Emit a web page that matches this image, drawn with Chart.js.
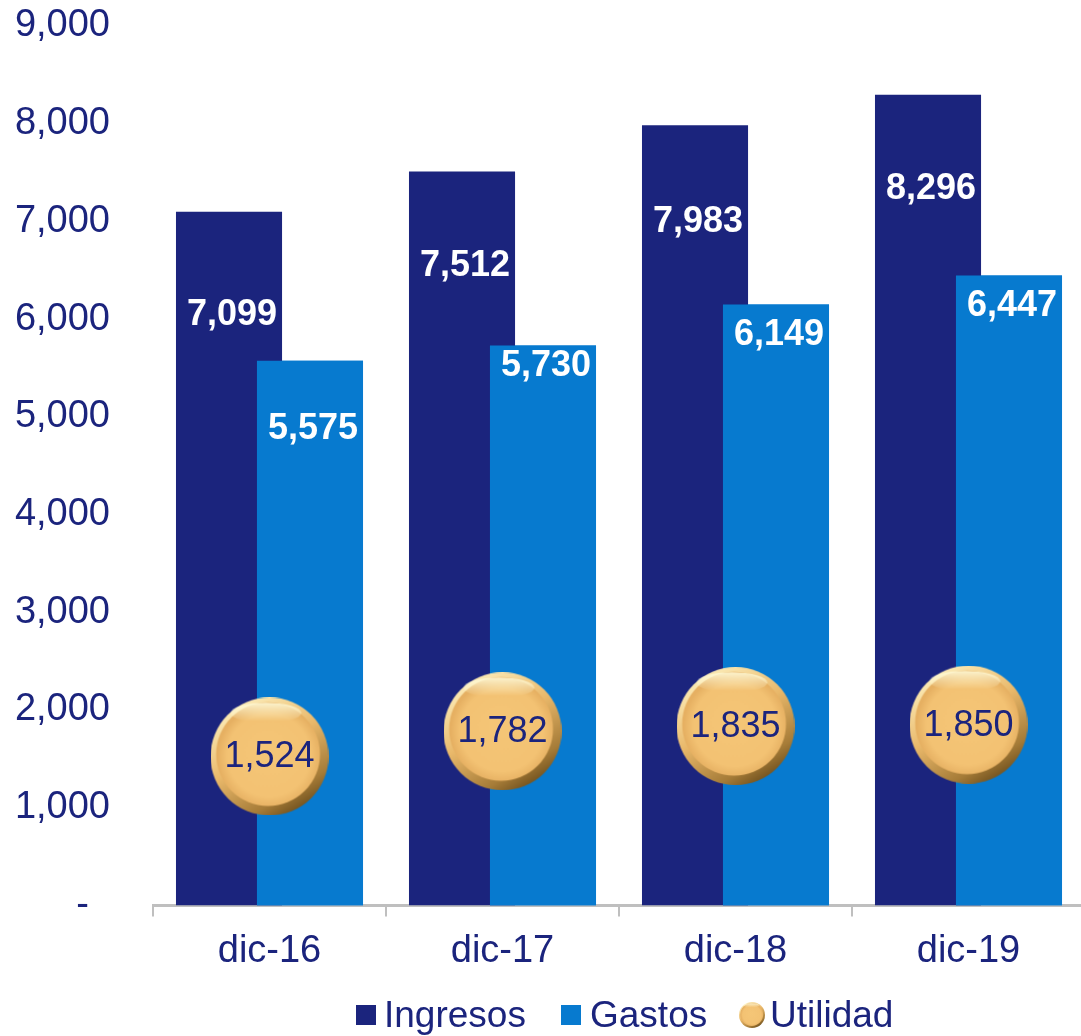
<!DOCTYPE html>
<html>
<head>
<meta charset="utf-8">
<title>Ingresos, Gastos y Utilidad</title>
<script src="https://cdn.jsdelivr.net/npm/chart.js@4.4.0/dist/chart.umd.min.js"></script>
<style>
  html, body { margin: 0; padding: 0; background: #fff; overflow: hidden; }
  #wrap { position: relative; width: 1081px; height: 1036px; overflow: hidden; }
  #chart { position: absolute; left: 0; top: 0; }
  .leg { position: absolute; top: 996px; height: 37px; display: flex; align-items: center;
         font: 37px "Liberation Sans", Arial, sans-serif; color: #1B247D; line-height: 37px; white-space: nowrap; }
  .sw { display: inline-block; width: 20px; height: 20px; }
  .ball { display: inline-block; width: 26px; height: 26px; }
  .ball canvas { display: block; }
</style>
</head>
<body>
<div id="wrap">
  <!-- el eje del original sigue unos px más allá del borde derecho -->
  <canvas id="chart" width="1085" height="1036"></canvas>
  <div class="leg" style="left:356px"><span class="sw" style="background:#1B247D;margin-right:8px"></span>Ingresos</div>
  <div class="leg" style="left:561px"><span class="sw" style="background:#077ACF;margin-right:9px"></span>Gastos</div>
  <div class="leg" style="left:739px"><span class="ball" id="ballIcon" style="margin-right:5px"></span>Utilidad</div>
</div>
<script>
// ── Datos ─────────────────────────────────────────────
const PERIODOS  = ['dic-16', 'dic-17', 'dic-18', 'dic-19'];
const INGRESOS  = [7099, 7512, 7983, 8296];
const GASTOS    = [5575, 5730, 6149, 6447];
const UTILIDAD  = [1524, 1782, 1835, 1850];
const Y_TICKS   = [0, 1000, 2000, 3000, 4000, 5000, 6000, 7000, 8000, 9000];

const NAVY = '#1B247D';
const BLUE = '#077ACF';
const FONT = '"Liberation Sans", Arial, sans-serif';

// distancia (px) entre el tope de la barra y su etiqueta, como en el original
const DROP_ING = [103, 95, 97, 94];
const DROP_GAS = [68, 21, 31, 31];

const fmt = v => v.toLocaleString('en-US');

// ── Bola dorada (punto de Utilidad) ───────────────────
function makeBall(d) {
  const c = document.createElement('canvas');
  c.width = c.height = d;
  const g = c.getContext('2d');
  const r = d / 2;

  // borde: claro arriba-izquierda, oscuro abajo-derecha
  const rim = g.createLinearGradient(d * 0.2, 0, d * 0.8, d);
  rim.addColorStop(0, '#fff3c2');
  rim.addColorStop(0.45, '#e9b86a');
  rim.addColorStop(0.8, '#a67c38');
  rim.addColorStop(1, '#5e4215');
  g.beginPath(); g.arc(r, r, r, 0, Math.PI * 2); g.fillStyle = rim; g.fill();

  // cara
  const face = g.createRadialGradient(r * 0.95, r * 0.9, 0, r, r, r * 0.88);
  face.addColorStop(0, '#f5c677');
  face.addColorStop(0.8, '#f3c273');
  face.addColorStop(1, '#e6b062');
  g.beginPath(); g.arc(r - d * 0.012, r - d * 0.02, r * 0.88, 0, Math.PI * 2);
  g.fillStyle = face; g.fill();

  // brillo superior
  const hi = g.createLinearGradient(0, d * 0.04, 0, d * 0.2);
  hi.addColorStop(0, 'rgba(255,250,215,0.95)');
  hi.addColorStop(1, 'rgba(255,250,215,0)');
  g.beginPath(); g.ellipse(r - d * 0.03, d * 0.13, r * 0.6, d * 0.085, 0, 0, Math.PI * 2);
  g.fillStyle = hi; g.fill();
  return c;
}

document.getElementById('ballIcon').appendChild(makeBall(26));

// ── Plugin: Gastos encima de Ingresos + etiquetas ─────
const overlapLabels = {
  id: 'overlapLabels',
  afterDatasetDraw(chart, args) {
    if (args.index !== 0) return;
    const ctx = chart.ctx, a = chart.chartArea;
    ctx.save();
    ctx.beginPath(); ctx.rect(a.left, a.top, a.right - a.left, a.bottom - a.top); ctx.clip();
    chart.getDatasetMeta(1).data.forEach(el => el.draw(ctx));
    ctx.restore();
  },
  afterDatasetsDraw(chart) {
    const ctx = chart.ctx;
    ctx.save();
    ctx.textAlign = 'center';
    ctx.textBaseline = 'middle';

    ctx.fillStyle = '#fff';
    ctx.font = 'bold 36px ' + FONT;
    chart.getDatasetMeta(0).data.forEach((b, i) => ctx.fillText(fmt(INGRESOS[i]), b.x + 3, b.y + DROP_ING[i]));
    chart.getDatasetMeta(1).data.forEach((b, i) => ctx.fillText(fmt(GASTOS[i]), b.x + 3, b.y + DROP_GAS[i]));

    ctx.fillStyle = NAVY;
    ctx.font = '36px ' + FONT;
    chart.getDatasetMeta(2).data.forEach((p, i) => ctx.fillText(fmt(UTILIDAD[i]), p.x, p.y + 1));
    ctx.restore();
  }
};

new Chart(document.getElementById('chart'), {
  type: 'bar',
  data: {
    labels: PERIODOS,
    datasets: [
      {
        label: 'Ingresos',
        data: INGRESOS,
        backgroundColor: NAVY,
        categoryPercentage: 0.695,
        barPercentage: 1.31
      },
      {
        label: 'Gastos',
        data: GASTOS,
        backgroundColor: BLUE,
        categoryPercentage: 0.695,
        barPercentage: 1.31
      },
      {
        label: 'Utilidad',
        type: 'line',
        data: UTILIDAD,
        showLine: false,
        order: -1,
        pointStyle: makeBall(118),
        pointRadius: 59,
        clip: false
      }
    ]
  },
  options: {
    responsive: false,
    animation: false,
    devicePixelRatio: 1,
    layout: { autoPadding: false, padding: { left: 15, top: 26, right: 0, bottom: 50 } },
    plugins: {
      legend: { display: false },
      tooltip: { enabled: false }
    },
    scales: {
      x: {
        offset: true,
        grid: { display: true, offset: true, drawOnChartArea: false, drawTicks: true,
                tickLength: 11, color: '#BFBFBF', lineWidth: 2 },
        border: { display: true, color: '#BFBFBF', width: 3 },
        ticks: { color: NAVY, font: { family: FONT, size: 38 }, padding: 12 }
      },
      y: {
        min: Y_TICKS[0],
        max: Y_TICKS[Y_TICKS.length - 1],
        afterBuildTicks: s => { s.ticks = Y_TICKS.map(v => ({ value: v })); },
        afterFit: s => { s.width = 138; s.paddingTop = 0; s.paddingBottom = 0; },
        grid: { display: false, drawTicks: false },
        border: { display: false },
        ticks: {
          color: NAVY,
          font: { family: FONT, size: 38 },
          padding: 43,
          callback: v => v === 0 ? '-  ' : fmt(v)
        }
      }
    }
  },
  plugins: [overlapLabels]
});
</script>
</body>
</html>
